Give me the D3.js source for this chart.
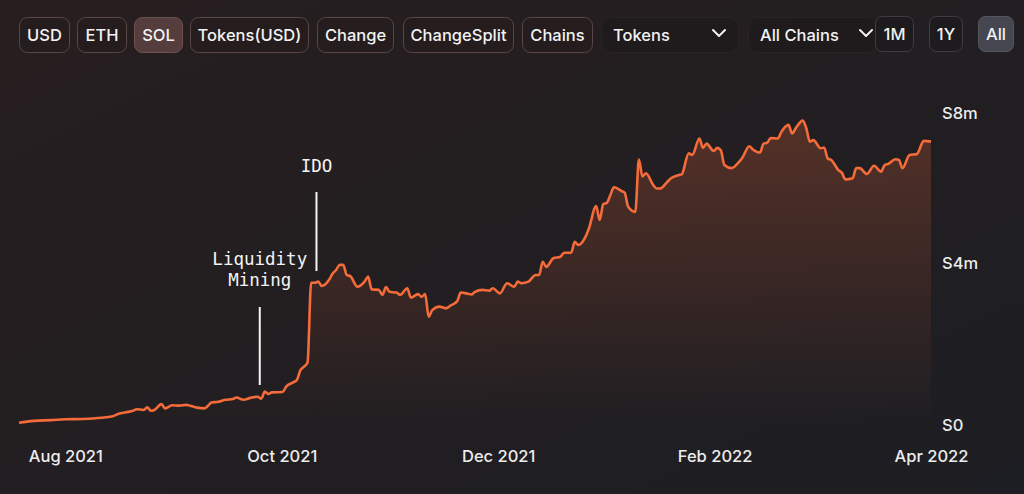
<!DOCTYPE html>
<meta charset="utf-8">
<style>
html, body {
  margin: 0;
  padding: 0;
  background: #211d20;
}
svg text {
  font-family: Inter, "Noto Sans", sans-serif;
}
.btn text {
  font-size: 16.5px;
  font-weight: 500;
  fill: #f2f2f2;
}
.axis text {
  font-size: 16.5px;
  font-weight: 500;
  fill: #ececec;
}
.axis path,
.axis line {
  display: none;
}
.note text {
  font-family: "DejaVu Sans Mono", "Liberation Mono", monospace;
  font-size: 17.5px;
  fill: #f4f4f4;
}
</style>
<svg width="1024" height="494"></svg>
<script src="https://cdn.jsdelivr.net/npm/d3@7"></script>
<script>

// daily values (millions)
var dates = [
  "2021-07-19","2021-07-23","2021-07-28","2021-08-01","2021-08-06","2021-08-11","2021-08-14","2021-08-16",
  "2021-08-18","2021-08-20","2021-08-21","2021-08-23","2021-08-24","2021-08-25","2021-08-26","2021-08-28",
  "2021-08-29","2021-08-31","2021-09-02","2021-09-04","2021-09-05","2021-09-07","2021-09-09","2021-09-10",
  "2021-09-11","2021-09-13","2021-09-15","2021-09-17","2021-09-18","2021-09-20","2021-09-22","2021-09-24",
  "2021-09-25","2021-09-26","2021-09-27","2021-09-28","2021-10-01","2021-10-02","2021-10-04","2021-10-05",
  "2021-10-06","2021-10-07","2021-10-08","2021-10-09","2021-10-10","2021-10-11","2021-10-12","2021-10-14",
  "2021-10-15","2021-10-16","2021-10-17","2021-10-18","2021-10-19","2021-10-20","2021-10-22","2021-10-24",
  "2021-10-25","2021-10-26","2021-10-28","2021-10-29","2021-10-30","2021-10-31","2021-11-02","2021-11-03",
  "2021-11-05","2021-11-06","2021-11-08","2021-11-09","2021-11-10","2021-11-11","2021-11-12","2021-11-14",
  "2021-11-16","2021-11-17","2021-11-19","2021-11-20","2021-11-22","2021-11-23","2021-11-24","2021-11-26",
  "2021-11-28","2021-11-29","2021-12-01","2021-12-03","2021-12-05","2021-12-06","2021-12-07","2021-12-09",
  "2021-12-11","2021-12-12","2021-12-13","2021-12-14","2021-12-16","2021-12-18","2021-12-19","2021-12-21",
  "2021-12-22","2021-12-23","2021-12-25","2021-12-26","2021-12-28","2021-12-29","2021-12-30","2021-12-31",
  "2022-01-01","2022-01-02","2022-01-04","2022-01-05","2022-01-06","2022-01-08","2022-01-09","2022-01-10",
  "2022-01-11","2022-01-13","2022-01-14","2022-01-15","2022-01-17","2022-01-18","2022-01-20","2022-01-21",
  "2022-01-23","2022-01-24","2022-01-26","2022-01-27","2022-01-28","2022-01-30","2022-01-31","2022-02-01",
  "2022-02-02","2022-02-04","2022-02-06","2022-02-07","2022-02-09","2022-02-10","2022-02-12","2022-02-13",
  "2022-02-14","2022-02-15","2022-02-17","2022-02-18","2022-02-20","2022-02-21","2022-02-22","2022-02-24",
  "2022-02-25","2022-02-26","2022-02-27","2022-03-01","2022-03-02","2022-03-03","2022-03-04","2022-03-06",
  "2022-03-07","2022-03-08","2022-03-10","2022-03-11","2022-03-12","2022-03-14","2022-03-16","2022-03-18",
  "2022-03-19","2022-03-20","2022-03-22","2022-03-23","2022-03-24","2022-03-26","2022-03-28","2022-03-30",
  "2022-04-01"
];
var values = [
  0.03, 0.08, 0.10, 0.12, 0.13, 0.16, 0.19, 0.26,
  0.30, 0.34, 0.38, 0.36, 0.43, 0.34, 0.36, 0.51,
  0.40, 0.48, 0.47, 0.49, 0.47, 0.42, 0.40, 0.46,
  0.55, 0.57, 0.62, 0.64, 0.68, 0.62, 0.67, 0.70,
  0.65, 0.83, 0.77, 0.81, 0.82, 0.96, 1.07, 1.13,
  1.38, 1.47, 1.58, 3.62, 3.62, 3.65, 3.54, 3.69,
  3.85, 3.95, 4.08, 4.08, 3.82, 3.79, 3.52, 3.65,
  3.78, 3.45, 3.44, 3.31, 3.51, 3.39, 3.37, 3.31,
  3.48, 3.24, 3.33, 3.26, 3.33, 2.75, 2.92, 3.01,
  2.97, 3.03, 3.15, 3.37, 3.34, 3.32, 3.39, 3.44,
  3.42, 3.48, 3.35, 3.61, 3.52, 3.65, 3.61, 3.65,
  3.82, 3.82, 4.16, 4.03, 4.25, 4.29, 4.39, 4.39,
  4.67, 4.59, 4.80, 5.02, 5.59, 5.23, 5.64, 5.67,
  5.87, 6.07, 5.98, 5.93, 5.57, 5.44, 6.78, 6.35,
  6.43, 6.13, 6.04, 6.04, 6.21, 6.30, 6.38, 6.40,
  6.94, 6.90, 7.32, 7.08, 7.19, 7.00, 7.08, 7.02,
  6.64, 6.56, 6.71, 6.82, 7.12, 7.04, 6.96, 7.19,
  7.21, 7.33, 7.32, 7.49, 7.67, 7.45, 7.58, 7.78,
  7.58, 7.24, 7.28, 7.07, 7.09, 6.81, 6.77, 6.51,
  6.44, 6.27, 6.30, 6.56, 6.56, 6.41, 6.62, 6.47,
  6.64, 6.67, 6.79, 6.77, 6.56, 6.90, 6.92, 7.26,
  7.24
];

var xTickLabels = ["Aug 2021", "Oct 2021", "Dec 2021", "Feb 2022", "Apr 2022"];
var xTickRange = ["2021-08-01", "2022-04-01"];
var yTickValues = [0, 4, 8];
var yTickLabels = ["S0", "S4m", "S8m"];

var noteLabels = [["IDO"], ["Liquidity", "Mining"]];
var noteDates = ["2021-10-10T12:00", "2021-09-24T14:00"];

var buttonLabels = ["USD", "ETH", "SOL", "Tokens(USD)", "Change", "ChangeSplit", "Chains"];
var dropdownLabels = ["Tokens", "All Chains"];
var rangeLabels = ["1M", "1Y", "All"];

var parse = d3.isoParse;
var data = dates.map(function(d, i) { return {date: parse(d), value: values[i]}; });

var svg = d3.select("svg");

// background
var defs = svg.append("defs");
var bg = defs.append("linearGradient").attr("id", "bg")
    .attr("x1", 0).attr("y1", 0).attr("x2", 1).attr("y2", 1);
bg.append("stop").attr("offset", "0%").attr("stop-color", "#271e1f");
bg.append("stop").attr("offset", "100%").attr("stop-color", "#1d1e23");
svg.append("rect").attr("width", 1024).attr("height", 494).attr("fill", "url(#bg)");

var x = d3.scaleTime()
    .domain(d3.extent(data, function(d) { return d.date; }))
    .range([19, 931]);
var y = d3.scaleLinear().domain([0, 8]).range([424, 112]);

var fill = defs.append("linearGradient").attr("id", "fill")
    .attr("gradientUnits", "userSpaceOnUse")
    .attr("x1", 0).attr("y1", y(8)).attr("x2", 0).attr("y2", y(0));
fill.append("stop").attr("offset", "0%").attr("stop-color", "#f26b3a").attr("stop-opacity", 0.25);
fill.append("stop").attr("offset", "100%").attr("stop-color", "#f26b3a").attr("stop-opacity", 0);

var area = d3.area()
    .curve(d3.curveMonotoneX)
    .x(function(d) { return x(d.date); })
    .y0(y(0))
    .y1(function(d) { return y(d.value); });

var line = d3.line()
    .curve(d3.curveMonotoneX)
    .x(function(d) { return x(d.date); })
    .y(function(d) { return y(d.value); });

svg.append("path").datum(data).attr("d", area).attr("fill", "url(#fill)");
svg.append("path").datum(data).attr("d", line)
    .attr("fill", "none")
    .attr("stroke", "#f56c3a")
    .attr("stroke-width", 2.6)
    .attr("stroke-linejoin", "round");

// x axis: labels spread evenly between first and last month
var t0 = parse(xTickRange[0]).getTime(), t1 = parse(xTickRange[1]).getTime();
var xTicks = xTickLabels.map(function(d, i) {
  return new Date(t0 + (t1 - t0) * i / (xTickLabels.length - 1));
});
svg.append("g")
    .attr("class", "axis")
    .attr("transform", "translate(0,445)")
    .call(d3.axisBottom(x).tickValues(xTicks).tickSize(0)
      .tickFormat(function(d, i) { return xTickLabels[i]; }))
  .selectAll("text")
    .attr("dy", "0.71em")
    .attr("y", 5);

var yOffsets = [1, -5, 1];
svg.append("g")
    .attr("class", "axis")
    .attr("transform", "translate(942,0)")
    .call(d3.axisRight(y).tickValues(yTickValues).tickSize(0)
      .tickFormat(function(d, i) { return yTickLabels[i]; }))
  .selectAll("text")
    .attr("x", 0)
    .attr("dy", function(d, i) { return (0.32 * 16.5 + yOffsets[i]) + "px"; })
    .attr("text-anchor", "start");

// annotations
var noteTop = [192, 307];
var noteBottom = [271, 385];
var noteTextY = [172, 265];
var notes = svg.selectAll(".note")
    .data(noteDates)
  .enter().append("g")
    .attr("class", "note");
notes.append("line")
    .attr("x1", function(d) { return x(parse(d)); })
    .attr("x2", function(d) { return x(parse(d)); })
    .attr("y1", function(d, i) { return noteTop[i]; })
    .attr("y2", function(d, i) { return noteBottom[i]; })
    .attr("stroke", "#f4f4f4")
    .attr("stroke-width", 2);
notes.each(function(d, i) {
  var g = d3.select(this), cx = x(parse(d));
  g.selectAll("text").data(noteLabels[i]).enter().append("text")
      .attr("x", cx)
      .attr("y", function(t, j) { return noteTextY[i] + j * 21; })
      .attr("text-anchor", "middle")
      .text(function(t) { return t; });
});

// control bar
var btnX = [19, 77, 134, 190, 317, 403, 522];
var btnW = [51, 50, 49, 119, 77, 111, 71];
var btns = svg.selectAll(".btn.tab")
    .data(buttonLabels)
  .enter().append("g")
    .attr("class", "btn tab")
    .attr("transform", function(d, i) { return "translate(" + btnX[i] + ",17)"; });
btns.append("rect")
    .attr("x", 0.5).attr("y", 0.5)
    .attr("width", function(d, i) { return btnW[i] - 1; })
    .attr("height", 35)
    .attr("rx", 8)
    .attr("fill", function(d) { return d === "SOL" ? "#563d3d" : "#241c1d"; })
    .attr("stroke", function(d) { return d === "SOL" ? "#6e5353" : "#5a4646"; });
btns.append("text")
    .attr("x", function(d, i) { return btnW[i] / 2; })
    .attr("y", 18)
    .attr("dy", "0.35em")
    .attr("text-anchor", "middle")
    .text(function(d) { return d; });

var ddX = [601, 748], ddW = [138, 130];
var dds = svg.selectAll(".btn.dd")
    .data(dropdownLabels)
  .enter().append("g")
    .attr("class", "btn dd")
    .attr("transform", function(d, i) { return "translate(" + ddX[i] + ",17)"; });
dds.append("rect")
    .attr("x", 0.5).attr("y", 0.5)
    .attr("width", function(d, i) { return ddW[i] - 1; })
    .attr("height", 35)
    .attr("rx", 10)
    .attr("fill", "#1f1a1c")
    .attr("stroke", "#2a2325");
dds.append("text")
    .attr("x", 12)
    .attr("y", 18)
    .attr("dy", "0.35em")
    .text(function(d) { return d; });
dds.append("path")
    .attr("d", function() {
      var cx = 118;
      return "M" + (cx - 6) + ",13 L" + cx + ",19 L" + (cx + 6) + ",13";
    })
    .attr("fill", "none")
    .attr("stroke", "#f2f2f2")
    .attr("stroke-width", 2)
    .attr("stroke-linecap", "round")
    .attr("stroke-linejoin", "round");

var rgX = [875, 929, 978], rgW = [39, 34, 36];
var rgs = svg.selectAll(".btn.rg")
    .data(rangeLabels)
  .enter().append("g")
    .attr("class", "btn rg")
    .attr("transform", function(d, i) { return "translate(" + rgX[i] + ",16)"; });
rgs.append("rect")
    .attr("x", 0.5).attr("y", 0.5)
    .attr("width", function(d, i) { return rgW[i] - 1; })
    .attr("height", 35)
    .attr("rx", 7)
    .attr("fill", function(d) { return d === "All" ? "#45464f" : "#1e1b1f"; })
    .attr("stroke", function(d) { return d === "All" ? "#55565f" : "#3e3d44"; });
rgs.append("text")
    .attr("x", function(d, i) { return rgW[i] / 2; })
    .attr("y", 18)
    .attr("dy", "0.35em")
    .attr("text-anchor", "middle")
    .text(function(d) { return d; });

</script>
